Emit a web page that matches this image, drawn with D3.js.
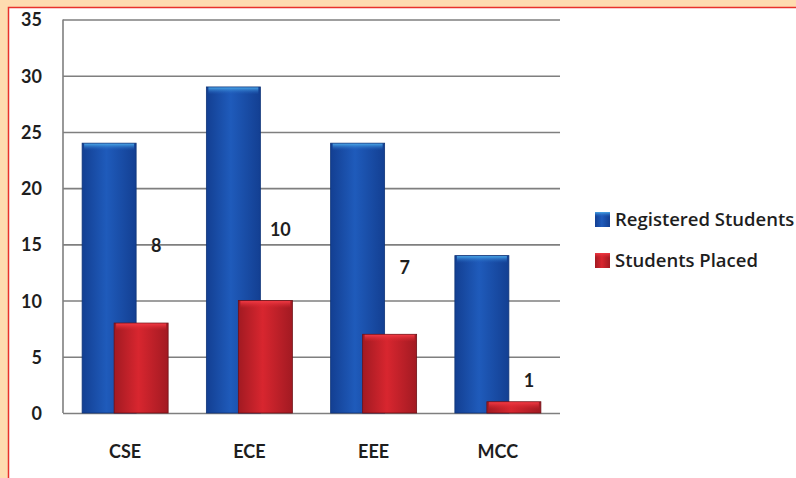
<!DOCTYPE html>
<html>
<head>
<meta charset="utf-8">
<script src="https://cdn.jsdelivr.net/npm/d3@7"></script>
<style>
  html, body { margin: 0; padding: 0; background: #fedcb0; }
  #chart svg { display: block; }
  text { font-family: Lato, "Open Sans", sans-serif; fill: #1e1e1e; }
</style>
</head>
<body>
<div id="chart"></div>
<script>
// chart values
var categories = ["CSE", "ECE", "EEE", "MCC"];
var registered = [24, 29, 24, 14];
var placed = [8, 10, 7, 1];
var seriesNames = ["Registered Students", "Students Placed"];
var yTicks = [0, 5, 10, 15, 20, 25, 30, 35];
// where the value labels float (in axis units)
var labelAnchor = [14.3, 15.7, 12.4, 2.3];

var W = 796, H = 478;
var margin = {top: 19.5, left: 63, right: 236, bottom: 65};
var width = W - margin.left - margin.right,
    height = H - margin.top - margin.bottom;

var svg = d3.select("#chart").append("svg")
    .attr("width", W)
    .attr("height", H);

// panel with red edge
svg.append("rect")
    .attr("x", 8.5).attr("y", 7.5)
    .attr("width", W).attr("height", H)
    .attr("fill", "#ffffff")
    .attr("stroke", "#e8322c")
    .attr("stroke-width", 1.5);

var defs = svg.append("defs");
function grad(id, edge, mid) {
    var g = defs.append("linearGradient").attr("id", id)
        .attr("x1", "0%").attr("x2", "100%").attr("y1", "0%").attr("y2", "0%");
    g.append("stop").attr("offset", "0%").attr("stop-color", edge);
    g.append("stop").attr("offset", "45%").attr("stop-color", mid);
    g.append("stop").attr("offset", "100%").attr("stop-color", edge);
}
function capGrad(id, top, bottom) {
    var g = defs.append("linearGradient").attr("id", id)
        .attr("x1", "0%").attr("x2", "0%").attr("y1", "0%").attr("y2", "100%");
    g.append("stop").attr("offset", "0%").attr("stop-color", top);
    g.append("stop").attr("offset", "100%").attr("stop-color", bottom).attr("stop-opacity", 0);
}
grad("gBlue", "#133f92", "#1f5bbb");
grad("gRed", "#a21a22", "#d8262f");
capGrad("cBlue", "#4aa6e6", "#1f5bbb");
capGrad("cRed", "#f03a44", "#d8262f");

var g = svg.append("g")
    .attr("transform", "translate(" + margin.left + "," + margin.top + ")");

var x = d3.scaleBand().domain(categories).range([0, width]);
var y = d3.scaleLinear().domain([0, 35]).range([height, 0]);

// grid
g.append("g")
    .attr("class", "grid")
    .call(d3.axisLeft(y).tickValues(yTicks).tickSize(-width).tickFormat(""))
    .call(a => a.select(".domain").remove())
    .selectAll("line")
    .attr("stroke", "#7f7f7f")
    .attr("stroke-width", 1.6);

g.append("line")
    .attr("x1", 0).attr("x2", 0)
    .attr("y1", 0).attr("y2", height)
    .attr("stroke", "#7f7f7f").attr("stroke-width", 1.6);

// y axis labels
g.append("g")
    .attr("transform", "translate(-21,0)")
    .call(d3.axisLeft(y).tickValues(yTicks).tickSize(0).tickPadding(0))
    .call(a => a.select(".domain").remove())
    .selectAll("text")
    .attr("dy", "0.36em")
    .style("font-family", "Lato, sans-serif")
    .style("font-size", "18px")
    .style("font-weight", "bold")
    .attr("fill", "#1e1e1e");

// x axis labels
g.append("g")
    .attr("transform", "translate(0," + height + ")")
    .call(d3.axisBottom(x).tickSize(0).tickPadding(32))
    .call(a => a.select(".domain").remove())
    .selectAll("text")
    .style("font-family", "Lato, sans-serif")
    .style("font-size", "18px")
    .style("font-weight", "bold")
    .attr("fill", "#1e1e1e");

var barW = 54, redShift = 32;
function cx(i) { return x(categories[i]) + x.bandwidth() / 2; }

// registered bars
var bl = g.selectAll(".reg").data(registered).enter().append("g").attr("class", "reg");
bl.append("rect")
    .attr("x", (d, i) => cx(i) - 43)
    .attr("y", d => y(d))
    .attr("width", barW)
    .attr("height", d => height - y(d))
    .attr("fill", "url(#gBlue)")
    .attr("stroke", "#0f3478").attr("stroke-width", 0.8);
bl.append("rect")
    .attr("x", (d, i) => cx(i) - 43 + 2)
    .attr("y", d => y(d) + 0.5)
    .attr("width", barW - 4)
    .attr("height", 7)
    .attr("fill", "url(#cBlue)");

// placed bars
var rd = g.selectAll(".pl").data(placed).enter().append("g").attr("class", "pl");
rd.append("rect")
    .attr("x", (d, i) => cx(i) - 43 + redShift)
    .attr("y", d => y(d))
    .attr("width", barW)
    .attr("height", d => height - y(d))
    .attr("fill", "url(#gRed)")
    .attr("stroke", "#6e1016").attr("stroke-width", 0.8);
rd.append("rect")
    .attr("x", (d, i) => cx(i) - 43 + redShift + 2)
    .attr("y", d => y(d) + 0.5)
    .attr("width", barW - 4)
    .attr("height", 7)
    .attr("fill", "url(#cRed)");

// value labels
g.selectAll(".vlab").data(placed).enter().append("text")
    .attr("class", "vlab")
    .attr("x", (d, i) => cx(i) + 31)
    .attr("y", (d, i) => y(labelAnchor[i]))
    .attr("text-anchor", "middle")
    .style("font-size", "18px")
    .style("font-weight", "bold")
    .text(d => d);

// legend
var lg = svg.append("g").attr("transform", "translate(595,212)");
seriesNames.forEach(function (s, i) {
    var r = lg.append("g").attr("transform", "translate(0," + i * 41 + ")");
    r.append("rect").attr("width", 15).attr("height", 15)
        .attr("fill", i == 0 ? "url(#gBlue)" : "url(#gRed)");
    r.append("rect").attr("width", 15).attr("height", 5)
        .attr("fill", i == 0 ? "url(#cBlue)" : "url(#cRed)");
    r.append("text").attr("x", 20).attr("y", 14)
        .style("font-size", "18.5px")
        .style("font-weight", "600")
        .style("font-family", "'Open Sans', sans-serif")
        .text(s);
});
</script>
</body>
</html>
